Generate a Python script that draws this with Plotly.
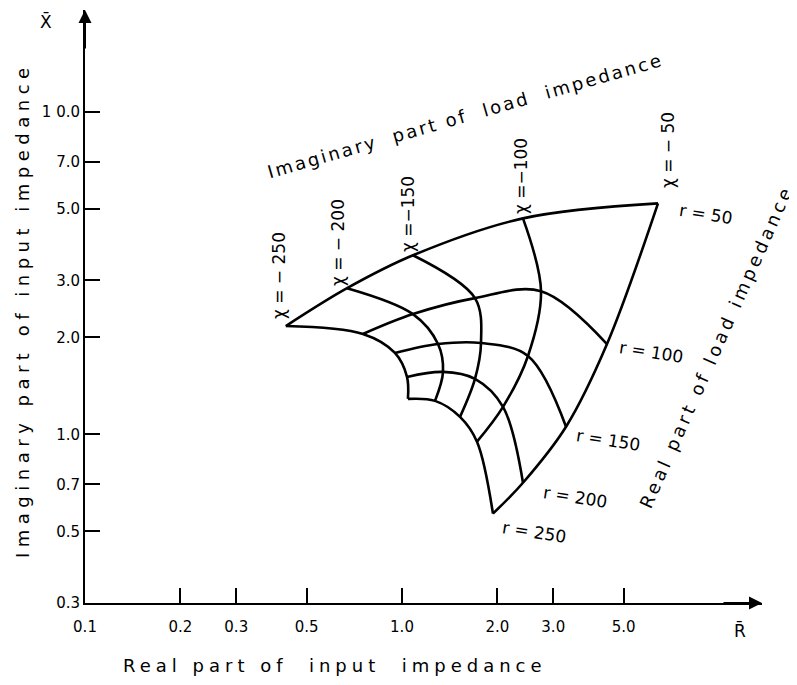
import plotly.graph_objects as go

# ---------------- data ----------------
r_values = [50, 100, 150, 200, 250]            # real part of load impedance
chi_values = [-250, -200, -150, -100, -50]     # imaginary part of load impedance

# input impedance (R_bar, X_bar) at every grid node, ordered like chi_values
R_r50 = [0.430, 0.671, 1.083, 2.408, 6.42]
X_r50 = [2.167, 2.840, 3.592, 4.675, 5.202]
R_r100 = [0.753, 1.083, 1.699, 2.745, 4.433]
X_r100 = [2.047, 2.360, 2.645, 2.780, 1.906]
R_r150 = [0.950, 1.299, 1.775, 2.497, 3.292]
X_r150 = [1.788, 1.906, 1.920, 1.750, 1.056]
R_r200 = [1.037, 1.347, 1.699, 2.083, 2.408]
X_r200 = [1.507, 1.562, 1.486, 1.217, 0.708]
R_r250 = [1.044, 1.271, 1.524, 1.724, 1.936]
X_r250 = [1.288, 1.270, 1.133, 0.949, 0.568]

x_tickvals = [0.1, 0.2, 0.3, 0.5, 1, 2, 3, 5]
x_ticktext = ["0.1", "0.2", "0.3", "0.5", "1.0", "2.0", "3.0", "5.0"]
y_tickvals = [0.3, 0.5, 0.7, 1, 2, 3, 5, 7, 10]
y_ticktext = ["0.3", "0.5", "0.7", "1.0", "2.0", "3.0", "5.0", "7.0", "1 0.0"]

R_rows = [R_r50, R_r100, R_r150, R_r200, R_r250]
X_rows = [X_r50, X_r100, X_r150, X_r200, X_r250]

# ---------------- figure ----------------
OFF = 8                      # page body margin
W, H = 797 - OFF, 685 - OFF
X0, X1 = 85, 762             # plot area in page pixels
Y0, Y1 = 10, 603
ML, MR = X0 - OFF, W - (X1 - OFF)
MT, MB = Y0 - OFF, H - (Y1 - OFF)
PW, PH = X1 - X0, Y1 - Y0
FONT = "DejaVu Sans"
LW = 2.6
DEC_X, DEC_Y = 317.0, 322.5

fig = go.Figure()

for i, r in enumerate(r_values):
    fig.add_trace(go.Scatter(x=R_rows[i], y=X_rows[i], mode="lines",
                             line=dict(color="black", width=LW, shape="spline", smoothing=1.0),
                             hoverinfo="skip", showlegend=False))
for j, c in enumerate(chi_values):
    fig.add_trace(go.Scatter(x=[row[j] for row in R_rows], y=[row[j] for row in X_rows],
                             mode="lines",
                             line=dict(color="black", width=LW, shape="spline", smoothing=1.0),
                             hoverinfo="skip", showlegend=False))


def P(px, py):
    return (px - X0) / PW, (Y1 - py) / PH


def spaced(t, ls):
    t = t.replace("  ", "\u00a0\u00a0")
    return f'<span style="letter-spacing:{ls}px">{t}</span>'


ann = []


def label(text, px, py, size=16, angle=0, ls=0):
    x, y = P(px, py)
    ann.append(dict(x=x, y=y, xref="paper", yref="paper", text=spaced(text, ls) if ls else text,
                    showarrow=False, textangle=angle, xanchor="center", yanchor="middle",
                    font=dict(family=FONT, size=size, color="black")))


label("χ = − 250", 279, 276, 17, -90)
label("χ = − 200", 338, 243, 17, -90)
label("χ =−150", 408, 214, 17, -90)
label("χ =−100", 521, 176, 17, -90)
label("χ = − 50", 668, 150, 17, -90)

label("r = 50", 706, 214, 17, 9)
label("r = 100", 651, 352, 17, 9)
label("r = 150", 608, 440, 17, 9)
label("r = 200", 575, 497, 17, 9)
label("r = 250", 534, 532, 17, 9)

label("Imaginary  part of  load  impedance", 466, 116, 18, -16, 2.5)
label("Real part of load impedance", 716, 346, 18, -66, 3.6)

label("Real part of  input  impedance", 335, 665, 18, 0, 5)
label("Imaginary part of input impedance", 22, 310, 18, -90, 5.5)

label("X\u0304", 46, 21, 17, 0)
label("R\u0304", 740, 630, 17, 0)

ann.append(dict(x=0, y=1, xref="paper", yref="paper", ax=0, ay=40, axref="pixel", ayref="pixel",
                showarrow=True, arrowhead=2, arrowsize=1.3, arrowwidth=2, arrowcolor="black", text=""))
ann.append(dict(x=1, y=0, xref="paper", yref="paper", ax=-40, ay=0, axref="pixel", ayref="pixel",
                showarrow=True, arrowhead=2, arrowsize=1.3, arrowwidth=2, arrowcolor="black", text=""))

fig.update_layout(
    width=W, height=H,
    margin=dict(l=ML, r=MR, t=MT, b=MB),
    paper_bgcolor="white", plot_bgcolor="white",
    font=dict(family=FONT, color="black"),
    annotations=ann,
    showlegend=False,
    xaxis=dict(type="log", range=[-1, -1 + PW / DEC_X],
               tickvals=x_tickvals, ticktext=x_ticktext,
               ticks="inside", ticklen=15, tickwidth=1.6, tickcolor="black",
               showline=True, linecolor="black", linewidth=2,
               showgrid=False, zeroline=False,
               tickfont=dict(family=FONT, size=15, color="black"),
               ticklabelstandoff=9),
    yaxis=dict(type="log", range=[-0.5229, -0.5229 + PH / DEC_Y],
               tickvals=y_tickvals, ticktext=y_ticktext,
               ticks="inside", ticklen=15, tickwidth=1.6, tickcolor="black",
               showline=True, linecolor="black", linewidth=2,
               showgrid=False, zeroline=False,
               tickfont=dict(family=FONT, size=15, color="black"),
               ticklabelstandoff=0),
)

fig.write_html("out.html")
